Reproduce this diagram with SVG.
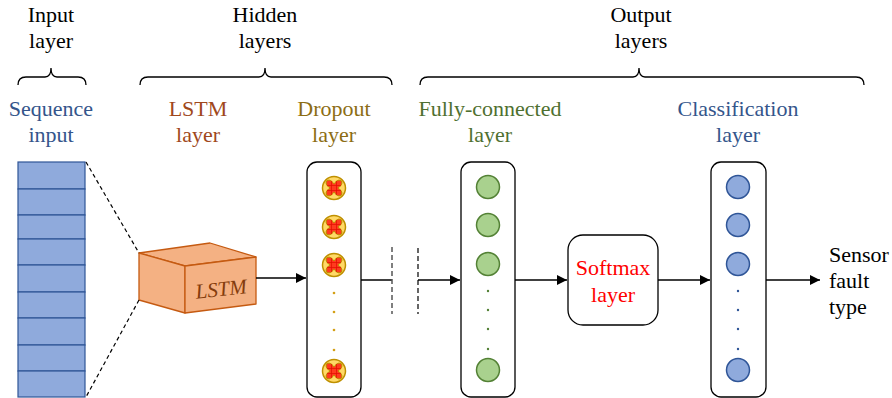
<svg xmlns="http://www.w3.org/2000/svg" width="892" height="398" viewBox="0 0 892 398">
<defs>
<style>
text{font-family:"Liberation Serif","Times New Roman",serif;font-size:22px;text-anchor:middle;fill:#000}
.brace{fill:none;stroke:#000;stroke-width:1.3}
.box{fill:#fff;stroke:#000;stroke-width:1.3}
.cell{fill:#8FAADC;stroke:#2F5597;stroke-width:1.2}
.fc{fill:#A9D18E;stroke:#538135;stroke-width:1.5}
.cl{fill:#8FAADC;stroke:#2F5597;stroke-width:1.5}
.conn{fill:none;stroke:#000;stroke-width:1.5}
.dash{fill:none;stroke:#000;stroke-width:1.2;stroke-dasharray:4 3}
</style>
<marker id="arr" viewBox="0 0 10 10" refX="10" refY="5" markerWidth="10" markerHeight="10" markerUnits="userSpaceOnUse" orient="auto">
<path d="M0,0 L10,5 L0,10 Z" fill="#000"/>
</marker>
<g id="dropNode">
<circle r="11.5" fill="#FFD966" stroke="#BF9000" stroke-width="1.5"/>
<path d="M-8,-5 Q-8,-8 -5,-8 Q-2.5,-8 0,-4 Q2.5,-8 5,-8 Q8,-8 8,-5 Q8,-2.5 4,0 Q8,2.5 8,5 Q8,8 5,8 Q2.5,8 0,4 Q-2.5,8 -5,8 Q-8,8 -8,5 Q-8,2.5 -4,0 Q-8,-2.5 -8,-5 Z" fill="#FF3B1F" stroke="#BF9000" stroke-width="1" stroke-linejoin="round"/>
<path d="M-2.5,-7 V7 M2.5,-7 V7 M-7,-2.5 H7 M-7,2.5 H7" stroke="#E01000" stroke-width="0.7"/>
</g>
</defs>
<rect width="892" height="398" fill="#fff"/>

<g id="titles">
<text x="51" y="22">Input</text><text x="51" y="48">layer</text>
<text x="265" y="22">Hidden</text><text x="265" y="48">layers</text>
<text x="641" y="22">Output</text><text x="641" y="48">layers</text>
<path class="brace" d="M18,85 Q18,77 26,77 H45 Q51,77 51,68 Q51,77 57,77 H78 Q86,77 86,85"/>
<path class="brace" d="M140,85 Q140,77 148,77 H259 Q265,77 265,68 Q265,77 271,77 H384 Q392,77 392,85"/>
<path class="brace" d="M420,85 Q420,77 428,77 H633 Q639,77 639,68 Q639,77 645,77 H856 Q864,77 864,85"/>
</g>

<g id="input">
<text x="51" y="116" style="fill:#34558B">Sequence</text>
<text x="51" y="142" style="fill:#34558B">input</text>
<rect class="cell" x="18" y="162" width="67" height="27"/>
<rect class="cell" x="18" y="189" width="67" height="26"/>
<rect class="cell" x="18" y="215" width="67" height="24"/>
<rect class="cell" x="18" y="239" width="67" height="26"/>
<rect class="cell" x="18" y="265" width="67" height="27"/>
<rect class="cell" x="18" y="292" width="67" height="26"/>
<rect class="cell" x="18" y="318" width="67" height="27"/>
<rect class="cell" x="18" y="345" width="67" height="26"/>
<rect class="cell" x="18" y="371" width="67" height="26"/>
</g>

<g id="lstm">
<text x="198" y="116" style="fill:#A0481C">LSTM</text>
<text x="198" y="142" style="fill:#A0481C">layer</text>
<g fill="#F4B183" stroke="#C55A11" stroke-width="1.3" stroke-linejoin="round">
<path d="M139,253 L210,243 L256,257 L185,266 Z"/>
<path d="M139,253 L185,266 L185,313 L139,300 Z"/>
<path d="M185,266 L256,257 L256,304 L185,313 Z"/>
</g>
<text x="221" y="296" transform="rotate(-6 221 288)" style="fill:#843C0C;font-style:italic;font-size:21px">LSTM</text>
</g>

<g id="dropout">
<text x="334" y="116" style="fill:#8C6D14">Dropout</text>
<text x="334" y="142" style="fill:#8C6D14">layer</text>
<rect class="box" x="307" y="162" width="54" height="235" rx="10"/>
<use href="#dropNode" x="334" y="188"/>
<use href="#dropNode" x="334" y="227"/>
<use href="#dropNode" x="334" y="265"/>
<use href="#dropNode" x="334" y="371"/>
<g fill="#D4A017"><circle cx="334" cy="293" r="1.3"/><circle cx="334" cy="312" r="1.3"/><circle cx="334" cy="330" r="1.3"/><circle cx="334" cy="350" r="1.3"/></g>
</g>

<g id="fully-connected">
<text x="490" y="116" style="fill:#4F7030">Fully-connected</text>
<text x="490" y="142" style="fill:#4F7030">layer</text>
<rect class="box" x="461" y="162" width="54" height="235" rx="10"/>
<circle class="fc" cx="488" cy="187" r="11.5"/>
<circle class="fc" cx="488" cy="225" r="11.5"/>
<circle class="fc" cx="488" cy="264" r="11.5"/>
<circle class="fc" cx="488" cy="370" r="11.5"/>
<g fill="#538135"><circle cx="488" cy="291" r="1.2"/><circle cx="488" cy="310" r="1.2"/><circle cx="488" cy="329" r="1.2"/><circle cx="488" cy="349" r="1.2"/></g>
</g>

<g id="softmax">
<rect class="box" x="568" y="235" width="90" height="90" rx="15"/>
<text x="613" y="275" style="fill:#FF0000">Softmax</text>
<text x="613" y="302" style="fill:#FF0000">layer</text>
</g>

<g id="classification">
<text x="738" y="116" style="fill:#34558B">Classification</text>
<text x="738" y="142" style="fill:#34558B">layer</text>
<rect class="box" x="711" y="162" width="55" height="235" rx="10"/>
<circle class="cl" cx="738" cy="187" r="11.5"/>
<circle class="cl" cx="738" cy="225" r="11.5"/>
<circle class="cl" cx="738" cy="264" r="11.5"/>
<circle class="cl" cx="738" cy="370" r="11.5"/>
<g fill="#2F5597"><circle cx="738" cy="291" r="1.2"/><circle cx="738" cy="310" r="1.2"/><circle cx="738" cy="329" r="1.2"/><circle cx="738" cy="349" r="1.2"/></g>
</g>

<g id="output">
<text x="829" y="262" style="text-anchor:start">Sensor</text>
<text x="829" y="288" style="text-anchor:start">fault</text>
<text x="829" y="314" style="text-anchor:start">type</text>
</g>

<g id="connectors">
<line class="dash" x1="86" y1="162" x2="139" y2="253"/>
<line class="dash" x1="139" y1="300" x2="86" y2="397"/>
<line class="conn" x1="256" y1="278" x2="306" y2="278" marker-end="url(#arr)"/>
<line class="conn" x1="361" y1="280" x2="392" y2="280"/>
<line x1="392" y1="247" x2="392" y2="314" stroke="#555" stroke-width="1.5" stroke-dasharray="5 3"/>
<line x1="418" y1="248" x2="418" y2="314" stroke="#000" stroke-width="1.2" stroke-dasharray="5 3"/>
<line class="conn" x1="418" y1="280" x2="460" y2="280" marker-end="url(#arr)"/>
<line class="conn" x1="515" y1="280" x2="567" y2="280" marker-end="url(#arr)"/>
<line class="conn" x1="658" y1="280" x2="710" y2="280" marker-end="url(#arr)"/>
<line class="conn" x1="766" y1="280" x2="820" y2="280" marker-end="url(#arr)"/>
</g>
</svg>
